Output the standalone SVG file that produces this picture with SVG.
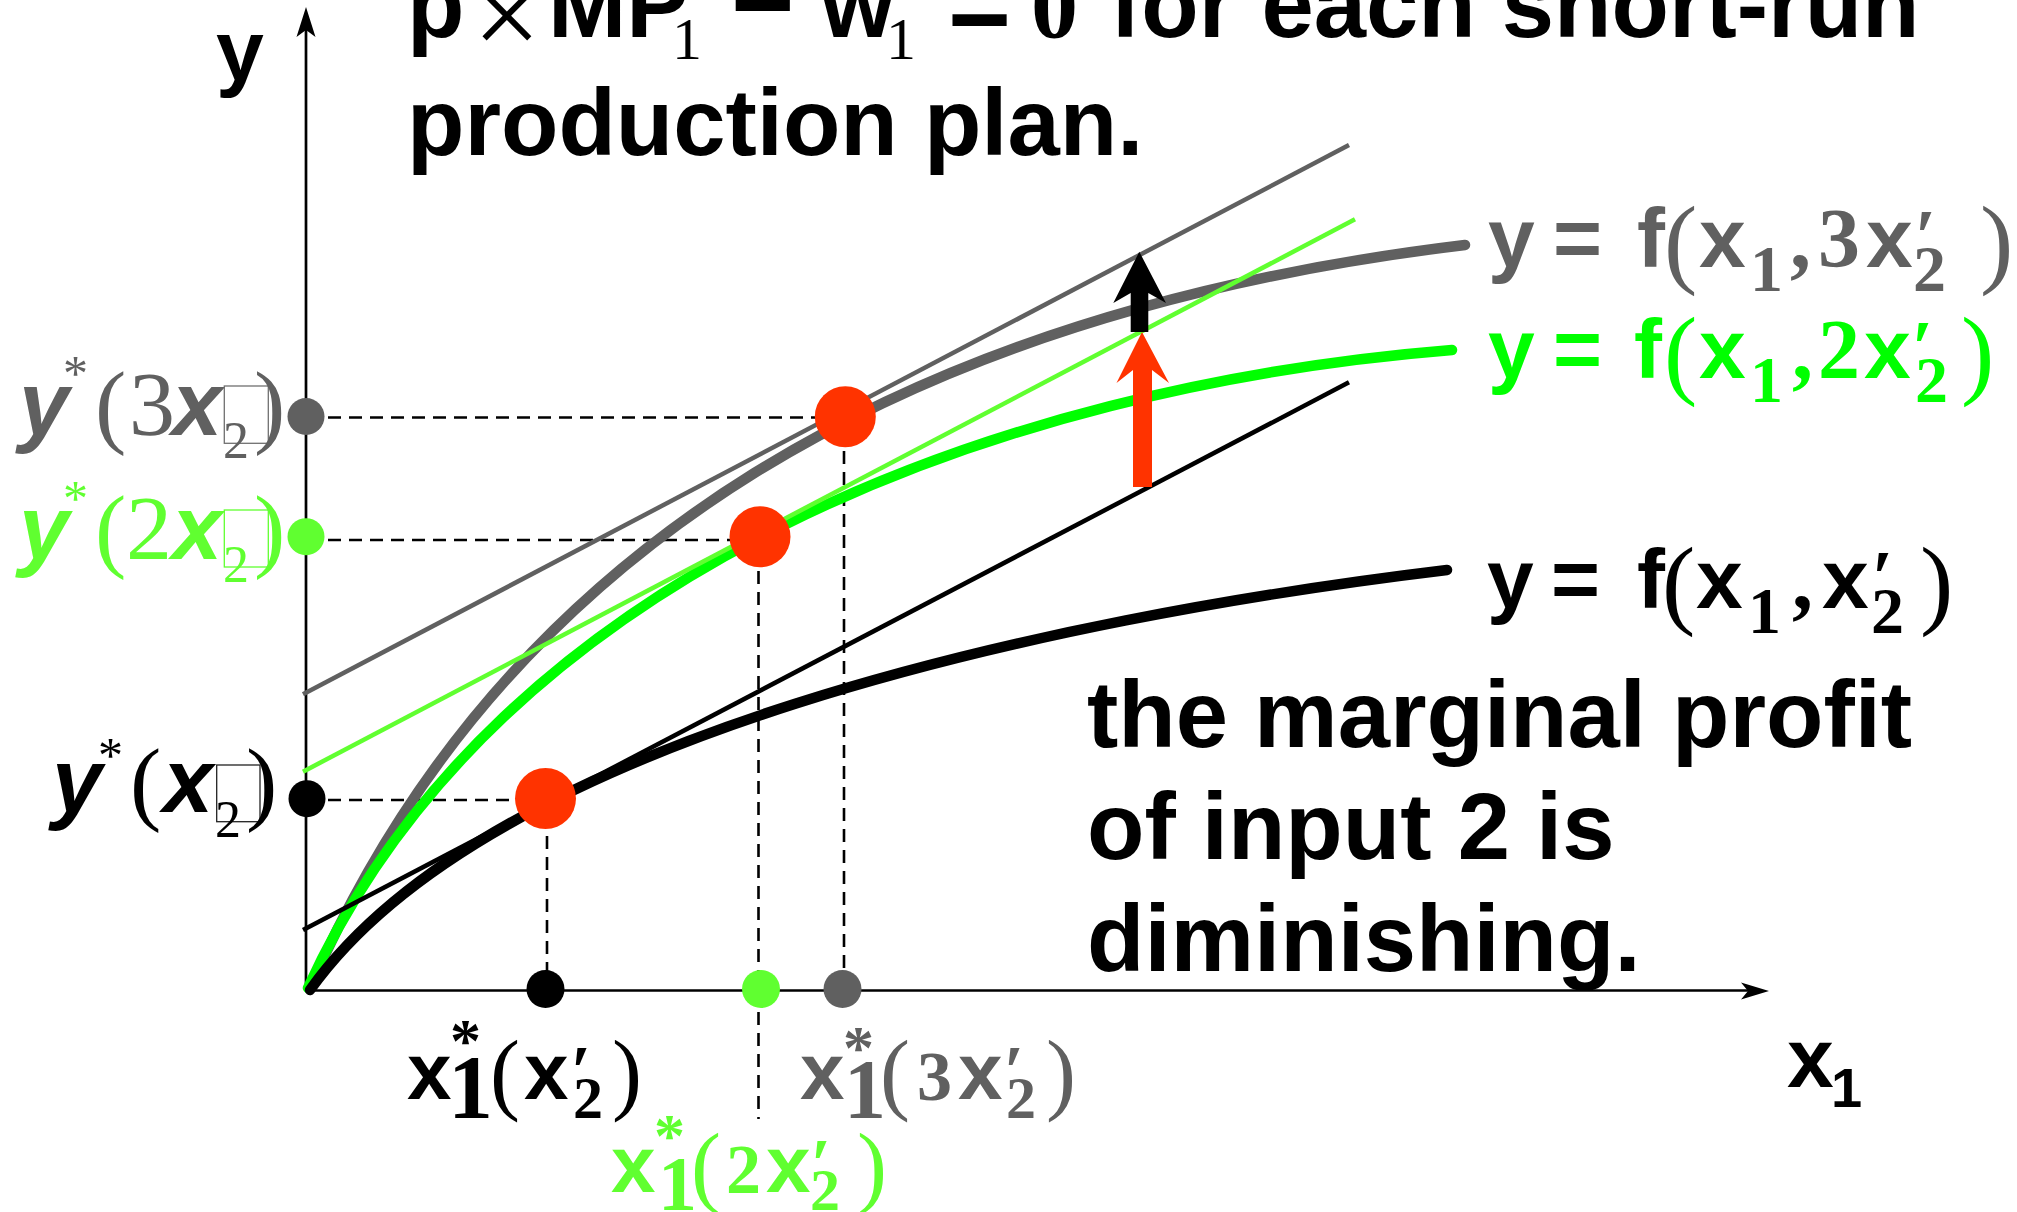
<svg xmlns="http://www.w3.org/2000/svg" width="2017" height="1212" viewBox="0 0 2017 1212">
<style>
.sb{font-family:"Liberation Sans",Arial,sans-serif;font-weight:bold}
.sbi{font-family:"Liberation Sans",Arial,sans-serif;font-weight:bold;font-style:italic}
.se{font-family:"Liberation Serif","Times New Roman",serif;font-weight:normal;font-style:normal}
.seb{font-family:"Liberation Serif","Times New Roman",serif;font-weight:bold;font-style:normal}
.ax{stroke:#000;stroke-width:2.7;fill:none}
.dash{stroke:#000;stroke-width:2.6;stroke-dasharray:13 8;fill:none}
.curve{fill:none;stroke-width:10.5;stroke-linecap:round}
.tan{fill:none;stroke-width:4.5}
.tofu{fill:none;stroke-width:1.3}
</style>
<rect width="2017" height="1212" fill="#fff"/>

<g id="title" class="sb" font-size="94" fill="#000">
<text y="37"><tspan x="407">p</tspan><tspan class="se" font-size="120" x="473" y="56">×</tspan><tspan x="548" y="37">MP</tspan><tspan class="se" font-size="60" x="672" y="59">1</tspan><tspan font-size="108" x="731" y="41">−</tspan><tspan x="821" y="37">w</tspan><tspan class="se" font-size="60" x="886" y="59">1</tspan><tspan font-size="108" x="948" y="41">=</tspan><tspan class="seb" x="1031" y="37">0</tspan><tspan x="1110">for each short-run</tspan></text>
<text x="407" y="155">production plan.</text>
</g>

<g id="note" class="sb" font-size="94" fill="#000">
<text x="1087" y="747">the marginal profit</text>
<text x="1087" y="859">of input 2 is</text>
<text x="1087" y="971">diminishing.</text>
</g>

<g id="axes">
<line class="ax" x1="306" y1="990.5" x2="306" y2="30"/>
<polygon points="306,7 296.5,37 306,30 315.5,37" fill="#000"/>
<line class="ax" x1="306" y1="990.5" x2="1748" y2="990.5"/>
<polygon points="1769,991 1741,982.5 1748,991 1741,999.5" fill="#000"/>
<text class="sb" font-size="86" x="216" y="80">y</text>
<text class="sb" font-size="84" x="1787" y="1087">x</text>
<text class="sb" font-size="56" x="1831" y="1107">1</text>
</g>

<g id="connectors">
<line class="dash" x1="307" y1="417.5" x2="835" y2="417.5"/>
<line class="dash" x1="307" y1="540" x2="745" y2="540"/>
<line class="dash" x1="307" y1="800" x2="530" y2="800"/>
<line class="dash" x1="547" y1="815" x2="547" y2="990"/>
<line class="dash" x1="758.5" y1="550" x2="758.5" y2="1119"/>
<line class="dash" x1="844" y1="430" x2="844" y2="990"/>
</g>

<g id="curves">
<path id="curve-gray" class="curve" stroke="#606060" d="M310,988 C505,539.5 915,311 1465,245"/>
<path id="curve-green" class="curve" stroke="#00FF00" d="M308,988 C498,570 1002,386 1452,350"/>
<path id="curve-black" class="curve" stroke="#000" stroke-width="11" d="M310,990 C490,738 1047,618 1447,570"/>
<line id="tangent-gray" class="tan" stroke="#606060" x1="303" y1="694.3" x2="1349" y2="145"/>
<line id="tangent-green" class="tan" stroke="#60FF30" x1="303" y1="771.7" x2="1355" y2="219.3"/>
<line id="tangent-black" class="tan" stroke="#000" x1="303" y1="930" x2="1349" y2="382.3"/>
</g>

<g id="points">
<circle cx="306" cy="416.5" r="18.5" fill="#606060"/>
<circle cx="306" cy="536.7" r="18.5" fill="#60FF30"/>
<circle cx="307" cy="798.7" r="18.5" fill="#000"/>
<circle cx="545.5" cy="989" r="19" fill="#000"/>
<circle cx="761" cy="989" r="19" fill="#60FF30"/>
<circle cx="842.5" cy="989" r="19" fill="#606060"/>
<circle cx="545.5" cy="798.5" r="30.5" fill="#FF3300"/>
<circle cx="760" cy="536.7" r="30.5" fill="#FF3300"/>
<circle cx="845.3" cy="416.7" r="30.5" fill="#FF3300"/>
</g>

<g id="arrows">
<polygon fill="#FF3300" points="1133,487 1133,370 1116.5,383 1142,332 1169,383 1152,370 1152,487"/>
<polygon fill="#000" points="1130.7,332 1130.7,293 1113.3,303 1139.3,251.7 1166,303 1148.3,293 1148.3,332"/>
</g>

<g id="label-f3" class="sb" font-size="84" fill="#606060">
<text y="267"><tspan x="1488">y</tspan><tspan x="1553">=</tspan><tspan x="1637">f</tspan><tspan class="se" font-size="100" x="1664" y="275">(</tspan><tspan x="1699" y="267">x</tspan><tspan class="seb" font-size="66" x="1750" y="291">1</tspan><tspan class="seb" x="1790" y="267">,</tspan><tspan class="seb" x="1818">3</tspan><tspan x="1866">x</tspan><tspan class="seb" font-size="76" x="1915" y="262">′</tspan><tspan class="seb" font-size="66" x="1913" y="291">2</tspan><tspan class="se" font-size="100" x="1980" y="275">)</tspan></text>
</g>
<g id="label-f2" class="sb" font-size="84" fill="#00FF00">
<text y="378"><tspan x="1488">y</tspan><tspan x="1553">=</tspan><tspan x="1634">f</tspan><tspan class="se" font-size="100" x="1664" y="386">(</tspan><tspan x="1699" y="378">x</tspan><tspan class="seb" font-size="66" x="1750" y="402">1</tspan><tspan class="seb" x="1792" y="378">,</tspan><tspan class="seb" x="1818">2</tspan><tspan x="1864">x</tspan><tspan class="seb" font-size="76" x="1912" y="373">′</tspan><tspan class="seb" font-size="66" x="1915" y="402">2</tspan><tspan class="se" font-size="100" x="1961" y="386">)</tspan></text>
</g>
<g id="label-f1" class="sb" font-size="84" fill="#000">
<text y="608"><tspan x="1487">y</tspan><tspan x="1551">=</tspan><tspan x="1637">f</tspan><tspan class="se" font-size="100" x="1662" y="616">(</tspan><tspan x="1696" y="608">x</tspan><tspan class="seb" font-size="66" x="1748" y="633">1</tspan><tspan class="seb" x="1792" y="608">,</tspan><tspan x="1822">x</tspan><tspan class="seb" font-size="76" x="1872" y="603">′</tspan><tspan class="seb" font-size="66" x="1871" y="633">2</tspan><tspan class="se" font-size="100" x="1920" y="616">)</tspan></text>
</g>

<g id="label-y3" fill="#606060">
<text class="sbi" font-size="90" x="19" y="435">y</text>
<text class="se" font-size="50" x="63" y="390">*</text>
<text class="se" font-size="94" x="95" y="436">(</text>
<text class="se" font-size="92" x="129" y="435">3</text>
<text class="sbi" font-size="90" x="172" y="435">x</text>
<rect class="tofu" stroke="#707070" x="224.3" y="386" width="44" height="57.3"/>
<text class="se" font-size="52" x="223" y="458">2</text>
<text class="se" font-size="94" x="254" y="436">)</text>
</g>
<g id="label-y2" fill="#60FF30">
<text class="sbi" font-size="90" x="19" y="559">y</text>
<text class="se" font-size="50" x="63" y="515">*</text>
<text class="se" font-size="94" x="95" y="560">(</text>
<text class="se" font-size="92" x="126" y="559">2</text>
<text class="sbi" font-size="90" x="172" y="559">x</text>
<rect class="tofu" stroke="#60FF30" x="224.3" y="510" width="44" height="57"/>
<text class="se" font-size="52" x="223" y="582">2</text>
<text class="se" font-size="94" x="254" y="560">)</text>
</g>
<g id="label-y1" fill="#000">
<text class="sbi" font-size="90" x="52" y="812">y</text>
<text class="se" font-size="50" x="98" y="772">*</text>
<text class="se" font-size="94" x="130" y="813">(</text>
<text class="sbi" font-size="90" x="163" y="812">x</text>
<rect class="tofu" stroke="#222" x="216.7" y="765" width="43.3" height="56.7"/>
<text class="se" font-size="52" x="215" y="837">2</text>
<text class="se" font-size="94" x="246" y="813">)</text>
</g>

<g id="label-x1" fill="#000">
<text class="sb" font-size="80" x="407" y="1099">x</text>
<text class="seb" font-size="62" x="450" y="1061">*</text>
<text class="seb" font-size="90" x="448" y="1118">1</text>
<text class="se" font-size="90" x="490" y="1103">(</text>
<text class="sb" font-size="80" x="524" y="1099">x</text>
<text class="seb" font-size="72" x="571" y="1095">′</text>
<text class="seb" font-size="60" x="573" y="1118">2</text>
<text class="se" font-size="90" x="612" y="1103">)</text>
</g>
<g id="label-x3" fill="#606060">
<text class="sb" font-size="80" x="800" y="1099">x</text>
<text class="seb" font-size="62" x="843" y="1068">*</text>
<text class="seb" font-size="84" x="844" y="1118">1</text>
<text class="se" font-size="90" x="880" y="1103">(</text>
<text class="seb" font-size="70" x="917" y="1100">3</text>
<text class="sb" font-size="80" x="958" y="1099">x</text>
<text class="seb" font-size="72" x="1004" y="1095">′</text>
<text class="seb" font-size="60" x="1006" y="1118">2</text>
<text class="se" font-size="90" x="1046" y="1103">)</text>
</g>
<g id="label-x2" fill="#60FF30">
<text class="sb" font-size="80" x="611" y="1192">x</text>
<text class="seb" font-size="62" x="654" y="1156">*</text>
<text class="seb" font-size="78" x="658" y="1210">1</text>
<text class="se" font-size="90" x="691" y="1196">(</text>
<text class="seb" font-size="70" x="726" y="1193">2</text>
<text class="sb" font-size="80" x="766" y="1192">x</text>
<text class="seb" font-size="72" x="811" y="1188">′</text>
<text class="seb" font-size="60" x="810" y="1210">2</text>
<text class="se" font-size="90" x="857" y="1196">)</text>
</g>
</svg>
